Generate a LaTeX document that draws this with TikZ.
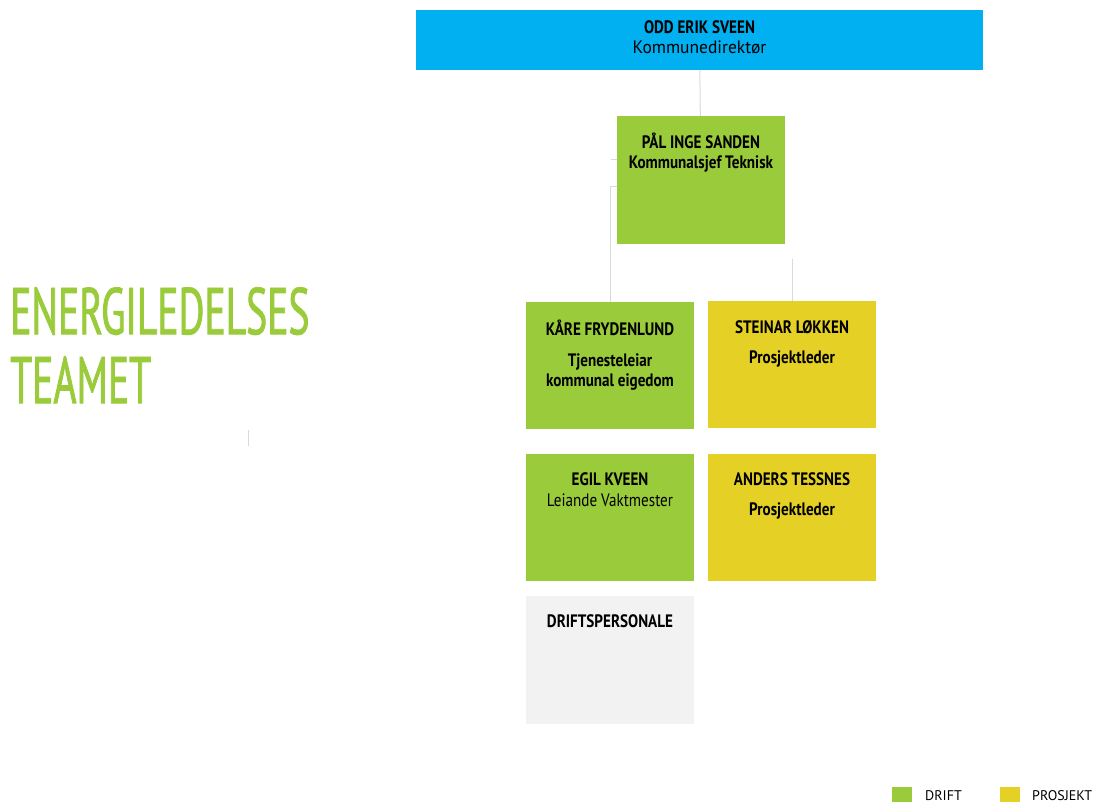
\documentclass[tikz,border=0pt]{standalone}
\usepackage{fontspec}
\setmainfont{PT Sans}[FakeStretch=0.84]
\newfontfamily\subfont{PT Sans}[FakeStretch=0.97]
\newfontfamily\titlefont{PT Sans}[FakeStretch=0.6, FakeBold=1.2]
\newfontfamily\legendfont{PT Sans}
\definecolor{topblue}{HTML}{00B0F0}
\definecolor{driftgreen}{HTML}{9ACB3A}
\definecolor{projyellow}{HTML}{E5D125}
\definecolor{staffgrey}{HTML}{F2F2F2}
\definecolor{linkgrey}{HTML}{D9D9D9}
\tikzset{
  unit/.style={minimum width=168pt, minimum height=128pt, inner sep=0pt},
  drift/.style={unit, fill=driftgreen},
  prosjekt/.style={unit, fill=projyellow},
  staff/.style={unit, fill=staffgrey},
  txt/.style={anchor=north, inner sep=0pt, align=center,
    font=\fontsize{18}{21}\selectfont\bfseries},
  link/.style={draw=linkgrey, line width=1pt}
}
\begin{document}
\begin{tikzpicture}[x=1pt, y=-1pt]
      \useasboundingbox (0,0) rectangle (1104,802);
      \clip (0,0) rectangle (1104,802);
      \node[fill=topblue, minimum width=567pt, minimum height=60pt, inner sep=0pt] (sveen) at (699.5,40) {};
      \node[drift] (sanden) at (701,180) {};
      \node[drift, minimum height=127pt] (frydenlund) at (610,365.5) {};
      \node[prosjekt, minimum height=127pt] (lokken) at (792,364.5) {};
      \node[drift, minimum height=127pt] (kveen) at (610,517.5) {};
      \node[prosjekt, minimum height=127pt] (tessnes) at (792,517.5) {};
      \node[staff] (personale) at (610,660) {};
      \node[txt, yshift=-11pt] at (sveen.north) {ODD ERIK SVEEN\\[-1pt]{\subfont\mdseries Kommunedirektør}};
      \node[txt, yshift=-17pt] at (sanden.north) {PÅL INGE SANDEN\\[-1pt]Kommunalsjef Teknisk};
      \node[txt, yshift=-18pt] at (frydenlund.north) {KÅRE FRYDENLUND\\[10pt]Tjenesteleiar\\[-1pt]kommunal eigedom};
      \node[txt, yshift=-20pt] at (lokken.north) {STEINAR LØKKEN\\[9pt]Prosjektleder};
      \node[txt, yshift=-19pt] at (kveen.north) {EGIL KVEEN\\{\mdseries Leiande Vaktmester}};
      \node[txt, yshift=-19pt] at (tessnes.north) {ANDERS TESSNES\\[9pt]Prosjektleder};
      \node[txt, yshift=-19pt] at (personale.north) {DRIFTSPERSONALE};
      \node[anchor=north west, inner sep=0pt, align=left, text=driftgreen,
        font=\titlefont\fontsize{66}{69}\selectfont] (title) at (10,287) {ENERGILEDELSES\\TEAMET};
      \coordinate (lokkenend) at (792,259);
      \coordinate (stubend) at (611,160);
      \coordinate (tickA) at (248,430);
      \coordinate (tickB) at (248,446);
      \begin{scope}[link]
        \draw (sveen) to (sanden);
        \draw (frydenlund.north) |- ([yshift=-7pt]sanden.west);
        \draw (stubend) -- (stubend -| sanden.west);
        \draw (lokken.north) -- (lokkenend);
        \draw (tickA) -- (tickB);
      \end{scope}
      \node[fill=driftgreen, minimum size=20pt, inner sep=0pt, anchor=north west] (keydrift) at (892,787) {};
      \node[fill=projyellow, minimum size=20pt, inner sep=0pt, anchor=north west] (keyprosjekt) at (1000,787) {};
      \node[anchor=base west, inner sep=0pt, font=\legendfont\fontsize{14}{16}\selectfont] at (925,800) {DRIFT};
      \node[anchor=base west, inner sep=0pt, font=\legendfont\fontsize{14}{16}\selectfont] at (1032,800) {PROSJEKT};
    \end{tikzpicture}
\end{document}
